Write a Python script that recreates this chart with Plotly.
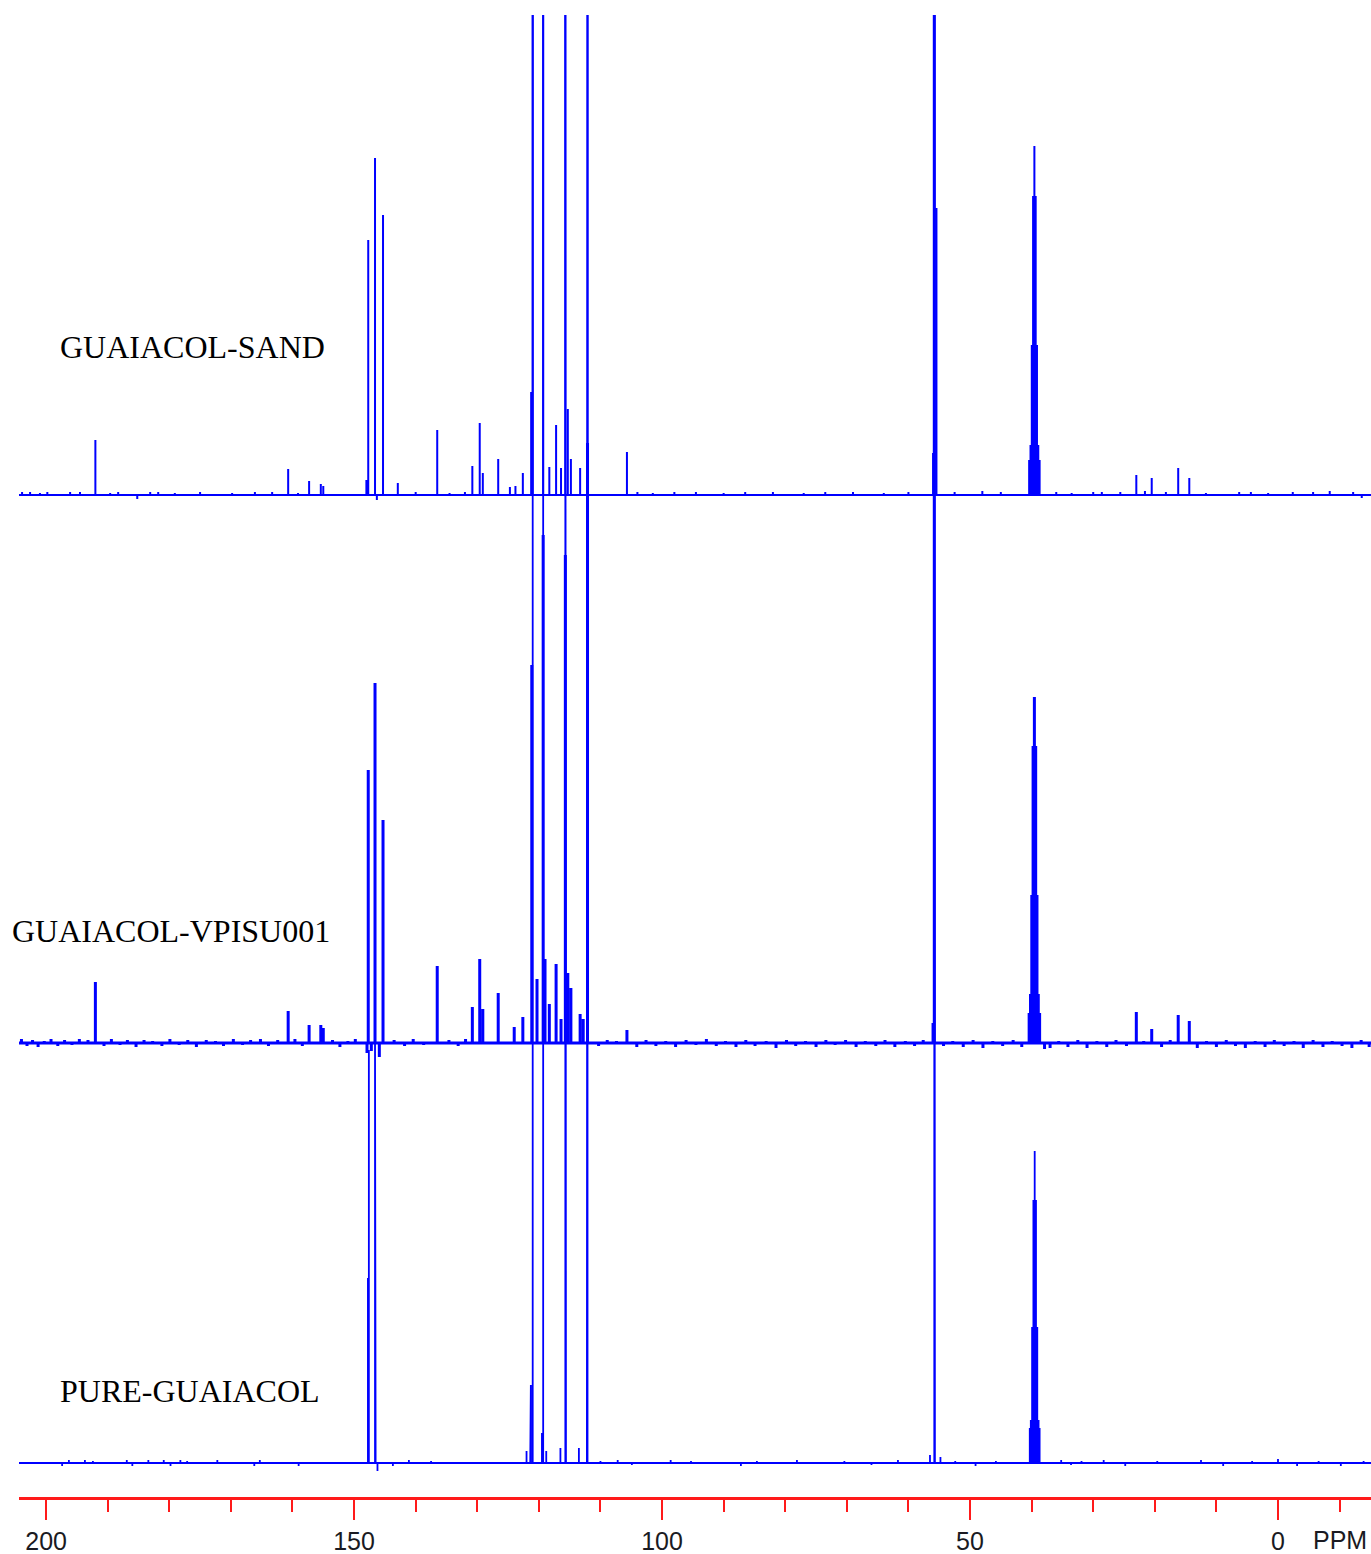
import plotly.graph_objects as go

# 13C NMR spectra (ppm scale), three samples stacked on one chemical-shift axis.
PPM_RANGE = [204.4, -15.1]

# GUAIACOL-SAND
sand_ppm = [192.0, 160.7, 157.3, 155.4, 155.0, 148.0, 147.7, 146.6, 146.3, 145.3, 142.9,
            136.5, 130.8, 129.6, 129.1, 126.6, 124.7, 123.8, 122.6, 121.25, 121.0,
            119.3, 118.3, 117.2, 116.4, 115.7, 115.3, 114.8, 113.3, 112.1, 105.7,
            56.0, 55.8, 55.45, 40.4, 40.18, 39.97, 39.76, 39.55, 39.34, 39.13, 38.92, 38.7,
            23.0, 20.5, 16.2, 14.4]
sand_int = [55, 26, 14, 11, 9, 15, 255, 337, -5, 280, 12,
            65, 29, 72, 22, 36, 8, 9, 22, 103, 1500,
            1500, 28, 70, 27, 1500, 86, 36, 27, 1500, 43,
            42, 1500, 287, 35, 50, 150, 299, 349, 299, 150, 50, 35,
            20, 17, 27, 17]
# small baseline ripples
sand_noise_ppm = [203.9, 202.6, 201.0, 199.8, 196.1, 194.5, 189.6, 188.3, 185.2, 183.1,
                  181.8, 179.1, 175.0, 169.8, 166.1, 163.3, 159.1, 140.0, 134.5, 132.0,
                  104.0, 101.5, 98.0, 94.5, 90.0, 86.5, 82.0, 77.0, 73.5, 69.0, 64.0,
                  60.0, 52.5, 48.0, 45.0, 36.0, 33.5, 30.0, 28.6, 25.6, 21.6, 18.2,
                  11.7, 6.3, 4.4, 1.6, -2.4, -5.7, -8.4, -12.2, -13.6]
sand_noise_int = [3, 3, 2, 3, 3, 3, 2, 3, -4, 3, 3, 2, 3, 2, 3, 3, 2, 3, 2, 3,
                  3, 2, 3, 3, 2, 3, 3, 2, 3, 3, 2, 3, 3, 4, 3, 3, 2, 3, 3, 3,
                  4, 3, 2, 3, 3, 2, 3, 3, 4, 3, -3]

# GUAIACOL-VPISU001
vpisu_ppm = [192.0, 160.7, 157.3, 155.4, 155.0, 147.9, 147.7, 147.2, 146.6, 145.9, 145.3,
             136.5, 130.8, 129.6, 129.1, 126.6, 124.0, 122.6, 121.15, 120.3, 119.3,
             119.0, 118.3, 117.2, 116.4, 115.7, 115.3, 114.8, 113.3, 112.8, 112.1, 105.7,
             56.0, 55.8, 40.4, 40.18, 39.97, 39.76, 39.55, 39.34, 39.13, 38.92, 38.7, 37.9,
             23.0, 20.5, 16.2, 14.4]
vpisu_int = [61, 32, 18, 18, 15, -10, 273, -8, 360, -14, 223,
             77, 36, 84, 34, 50, 16, 26, 378, 64, 508,
             84, 39, 79, 24, 488, 70, 55, 29, 24, 600, 13,
             20, 1500, 30, 49, 148, 297, 346, 297, 148, 49, 30, -6,
             31, 14, 28, 22]
vpisu_noise_ppm = [204.0, 203.1, 202.2, 201.3, 200.3, 199.2, 198.1, 197.0, 195.8, 194.6,
                   193.2, 190.6, 189.4, 188.0, 186.8, 185.4, 184.1, 182.7, 181.2, 179.9,
                   178.4, 177.0, 175.6, 174.0, 172.5, 171.2, 169.6, 168.1, 166.8, 165.2,
                   163.9, 162.4, 159.6, 158.4, 153.5, 152.3, 151.0, 149.8, 143.5, 141.8,
                   140.4, 138.7, 134.6, 133.1, 131.9, 110.3, 108.9, 107.4, 104.1, 102.6,
                   101.0, 99.4, 97.8, 96.1, 94.5, 92.8, 91.2, 89.7, 88.0, 86.4, 84.9,
                   83.1, 81.5, 79.8, 78.3, 76.7, 75.0, 73.4, 71.9, 70.2, 68.5, 67.0,
                   65.3, 63.8, 62.2, 60.5, 59.0, 57.6, 54.3, 52.8, 51.1, 49.5, 47.9,
                   46.3, 44.7, 43.0, 41.6, 37.0, 35.6, 34.1, 32.5, 31.0, 29.4, 27.8,
                   26.3, 24.6, 21.8, 18.9, 17.5, 13.1, 11.6, 10.0, 8.4, 6.9, 5.3, 3.7,
                   2.1, 0.6, -1.0, -2.6, -4.1, -5.7, -7.3, -8.8, -10.4, -12.0, -13.5, -14.8]
vpisu_noise_int = [4, -3, 3, -4, 2, 4, -3, 3, -2, 4, 3, -3, 4, -2, 3, -4, 3, 2, -3, 4,
                   -2, 3, -4, 3, 2, -3, 4, -2, 3, 4, -3, 3, 4, -3, 3, -4, 2, 4, 3, -3,
                   4, -2, 3, -3, 4, -3, 3, 2, -4, 3, -3, 2, -4, 3, -2, 4, -3, 2, -4, 3,
                   -3, 2, -5, 3, -3, 2, -4, 3, -2, 3, -4, 2, -3, 3, -4, 2, -3, 3, -3, 2,
                   -4, 3, -5, 2, -3, 3, -4, -5, 2, -4, 3, -5, 2, -4, 3, -3, 2, -4, 3, -5,
                   2, -4, 3, -3, -5, 2, -4, 3, -3, 2, -5, 3, -4, 2, -3, -5, 3, -4]

# PURE-GUAIACOL
pure_ppm = [147.75, 147.6, 146.6, 146.5, 146.2, 122.0, 121.4, 121.3, 121.0, 119.5, 119.3,
            118.8, 116.5, 115.7, 115.6, 113.5, 112.2, 112.1, 56.5, 55.8, 55.7, 54.8,
            40.3, 40.13, 39.92, 39.71, 39.5, 39.29, 39.08, 38.87, 38.7, 0.0]
pure_int = [185, 413, 423, 56, -8, 12, 50, 78, 1500, 30, 1500,
            12, 15, 1500, 223, 15, 255, 1500, 8, 1500, 70, 6,
            35, 43, 136, 263, 312, 263, 136, 43, 35, 4]
pure_noise_ppm = [197.4, 196.3, 193.7, 192.4, 186.9, 186.0, 183.4, 180.9, 179.8, 178.2,
                  177.1, 172.2, 166.2, 165.3, 159.0, 143.7, 141.1, 137.5, 110.0, 107.2,
                  104.9, 98.6, 95.3, 87.2, 84.6, 78.1, 70.4, 66.0, 61.7, 52.4, 49.1,
                  45.8, 35.2, 33.6, 31.9, 28.3, 24.8, 19.6, 12.5, 8.9, 4.2, -3.1, -6.6,
                  -10.2, -13.9]
pure_noise_int = [-3, 3, 3, 2, 3, -3, 3, 3, -3, 3, 2, 3, -3, 3, -3, -3, 3, 2, 2, 3,
                  -2, 3, 2, -3, 2, 3, 2, -2, 3, 2, -3, 2, 3, -2, 2, 3, -3, 2, 3, -3,
                  2, -3, 2, -3, 2]

sample_names = ["GUAIACOL-SAND", "GUAIACOL-VPISU001", "PURE-GUAIACOL"]
stack_offsets = [1002, 454, 34]

axis_ticks = [200, 150, 100, 50, 0]
axis_unit = "PPM"


def stick_spectrum(ppm, inten, offset):
    """Build a line trace of vertical sticks rising from a flat baseline."""
    pairs = sorted(zip(ppm, inten), key=lambda p: -p[0])
    xs, ys = [PPM_RANGE[0]], [offset]
    for p, h in pairs:
        xs += [p, p, p]
        ys += [offset, offset + h, offset]
    xs.append(PPM_RANGE[1])
    ys.append(offset)
    return xs, ys


fig = go.Figure()
spectra = [(sand_ppm + sand_noise_ppm, sand_int + sand_noise_int),
           (vpisu_ppm + vpisu_noise_ppm, vpisu_int + vpisu_noise_int),
           (pure_ppm + pure_noise_ppm, pure_int + pure_noise_int)]
widths = [2.0, 3.0, 1.8]
for (ppm, inten), off, w, name in zip(spectra, stack_offsets, widths, sample_names):
    xs, ys = stick_spectrum(ppm, inten, off)
    fig.add_trace(go.Scatter(x=xs, y=ys, mode="lines", name=name,
                             line=dict(color="#0000ff", width=w),
                             hoverinfo="skip", showlegend=False))

W, H = 1371, 1554
ML, MR, MT, MB = 19, 0, 15, 57
plot_h = H - MT - MB


def py(pix):
    # pixel row -> paper fraction
    return (H - MB - pix) / plot_h


def px(pix):
    return (pix - ML) / (W - ML - MR)


label_pos = [(58, 347), (10, 931), (58, 1391)]
for name, (lx, ly) in zip(sample_names, label_pos):
    fig.add_annotation(text=name, xref="paper", yref="paper", x=px(lx), y=py(ly),
                       xanchor="left", yanchor="middle", showarrow=False,
                       font=dict(family="Liberation Serif, Times New Roman, serif",
                                 size=32, color="#000000"))

fig.add_annotation(text=axis_unit, xref="paper", yref="paper", x=px(1369), y=py(1540),
                   xanchor="right", yanchor="middle", showarrow=False,
                   font=dict(family="Liberation Sans Narrow, Arial Narrow, Liberation Sans, sans-serif",
                             size=25, color="#1a1a22"))

fig.update_layout(
    width=W, height=H,
    margin=dict(l=ML, r=MR, t=MT, b=MB),
    paper_bgcolor="white", plot_bgcolor="white",
    xaxis=dict(range=PPM_RANGE, showgrid=False, zeroline=False,
               showline=True, linecolor="#ff1a1a", linewidth=2.5,
               ticks="outside", ticklen=20, tickwidth=2, tickcolor="#ff1a1a",
               tickvals=axis_ticks, ticktext=[str(t) for t in axis_ticks],
               tickfont=dict(family="Liberation Sans Narrow, Arial Narrow, Liberation Sans, sans-serif",
                             size=25, color="#1a1a22"),
               minor=dict(tickmode="linear", tick0=0, dtick=10, ticks="outside",
                          ticklen=12, tickwidth=2, tickcolor="#ff1a1a", showgrid=False)),
    yaxis=dict(range=[0, plot_h], visible=False, fixedrange=True),
)

fig.write_html("out.html")
